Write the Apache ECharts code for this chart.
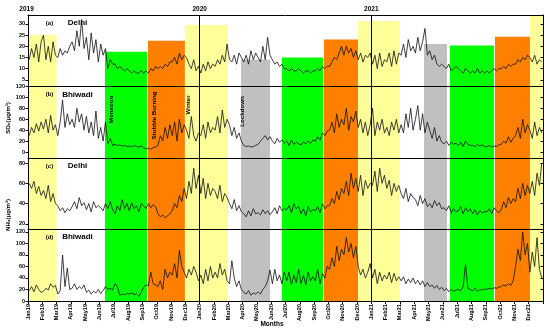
<!DOCTYPE html>
<html><head><meta charset="utf-8">
<script src="https://cdn.jsdelivr.net/npm/echarts@6/dist/echarts.min.js"></script>
<style>html,body{margin:0;padding:0;background:#fff}#c{width:550px;height:331px}</style>
</head><body><div id="c"></div>
<script>
// ---------------- DATA ----------------
const monthLabels = ['Jan19','Feb19','Mar19','Apr19','May19','Jun19','Jul19','Aug19','Sep19','Oct19','Nov19','Dec19',
  'Jan20','Feb20','Mar20','Apr20','May20','Jun20','Jul20','Aug20','Sep20','Oct20','Nov20','Dec20',
  'Jan21','Feb21','Mar21','Apr21','May21','Jun21','Jul21','Aug21','Sep21','Oct21','Nov21','Dec21'];
const samplesPerMonth = 6;

// (a) Delhi SO2
const delhiSO2 = [
 14,19,15,21,13,22, 25,14,20,13,22,16, 15,19,16,18,17,20, 22,18,27,20,32,19, 24,14,26,17,23,13, 21,16,19,10,14,12,
 12,10,11,10,9,10, 9,8,9,8,8,9, 8,9,8,10,9,11, 10,11,10,12,11,13, 13,15,12,17,14,16, 15,12,10,14,9,11,
 8,12,9,13,10,12, 11,14,12,16,13,21, 14,13,16,12,17,15, 13,16,12,18,14,17, 15,13,20,14,24,16, 14,12,13,11,12,10,
 10,9,10,9,9,10, 9,8,9,9,8,9, 9,10,9,11,10,11, 11,13,15,14,17,20, 16,20,17,19,15,18, 14,17,13,16,15,17,
 12,16,10,17,11,14, 13,17,11,18,12,17, 16,21,15,23,18,20, 17,24,18,22,28,16, 18,14,16,12,11,12, 11,10,12,9,10,11,
 10,9,8,10,9,8, 9,8,10,8,9,8, 9,8,9,10,9,10, 10,11,10,12,11,12, 12,14,13,15,14,16, 15,13,16,12,14,13];
// (b) Bhiwadi SO2
const bhiwadiSO2 = [
 30,45,35,52,38,55, 42,60,35,67,40,50, 30,55,95,45,70,50, 60,45,80,55,70,40, 65,35,55,30,75,25, 45,20,55,15,25,12,
 14,12,13,11,12,10, 11,9,12,10,9,11, 8,6,7,5,8,9, 12,30,20,45,25,50, 30,55,20,60,35,50, 40,25,65,30,20,35,
 30,50,25,55,35,45, 40,65,35,77,45,60, 50,30,45,25,35,20, 12,10,11,9,10,12, 14,20,25,30,22,28, 20,15,25,18,22,16,
 20,12,22,14,18,15, 13,18,15,20,16,22, 20,28,22,35,30,38, 40,55,35,70,45,60, 50,80,40,65,55,75, 45,60,35,55,30,50,
 80,30,55,40,60,35, 45,30,55,40,60,35, 50,35,70,45,80,40, 60,85,40,70,35,55, 40,25,45,20,30,18, 15,20,12,18,14,16,
 12,18,10,20,14,12, 12,10,14,11,13,10, 10,12,9,11,10,13, 14,20,16,28,18,25, 30,45,25,60,35,50, 40,25,55,30,45,35];
// (c) Delhi NH3
const delhiNH3 = [
 60,55,62,50,57,48, 53,45,58,42,50,40, 38,33,36,31,35,33, 37,42,35,46,38,41, 34,40,32,42,36,38, 36,33,40,35,42,34,
 30,38,33,44,35,40, 33,41,35,38,32,40, 38,35,40,36,39,37, 30,27,29,26,28,30, 33,40,36,48,42,55, 45,62,50,75,55,68,
 50,65,45,60,48,55, 52,45,58,42,50,46, 40,35,44,33,38,32, 30,27,33,28,35,30, 31,29,34,30,33,29, 32,36,30,38,33,35,
 34,38,31,40,35,37, 30,35,28,37,32,34, 33,37,31,40,35,38, 38,45,40,52,44,55, 50,62,48,70,55,65, 52,68,48,63,55,60,
 58,72,52,75,60,68, 55,63,48,60,52,58, 50,45,55,42,50,46, 44,38,48,40,45,37, 40,36,43,38,41,35, 36,33,38,31,35,32,
 33,37,30,36,32,35, 30,34,29,33,31,32, 32,35,30,36,33,31, 34,42,36,46,40,45, 42,55,45,60,48,58, 50,62,48,70,58,80];
// (d) Bhiwadi NH3
const bhiwadiNH3 = [
 18,25,16,28,20,15, 17,22,19,30,24,27, 12,18,80,25,57,20, 22,30,20,25,21,28, 15,19,12,17,14,20, 13,18,25,20,22,19,
 30,25,10,12,11,13, 12,14,11,13,8,15, 24,28,26,50,30,28, 25,35,20,55,40,50, 45,65,40,88,60,50, 40,55,45,60,50,35,
 45,30,55,35,60,40, 50,40,65,45,55,35, 30,70,40,25,35,20, 15,12,18,10,14,12, 16,12,20,25,35,54, 30,55,35,45,30,50,
 35,50,28,45,32,55, 30,45,28,50,35,42, 35,55,30,48,40,60, 55,75,60,95,70,90, 80,110,85,100,75,95, 60,45,55,40,50,65,
 40,55,30,50,35,45, 38,50,32,48,35,42, 35,42,30,38,32,40, 30,36,28,35,25,32, 25,28,22,27,20,24, 18,22,16,20,17,19,
 20,18,25,63,22,20, 18,22,17,20,19,21, 20,22,21,23,22,24, 25,28,26,30,27,35, 60,90,70,120,80,100, 50,85,60,110,55,40];

const seriesData = [delhiSO2, bhiwadiSO2, delhiNH3, bhiwadiNH3];
const panelTags = ['(a)','(b)','(c)','(d)'];
const panelCities = ['Delhi','Bhiwadi','Delhi','Bhiwadi'];
const yMin = [2, -11, 15, 0];
const yMax = [34, 120, 85, 125];
const yTicks = [[5,10,15,20,25,30],[0,20,40,60,80,100,120],[20,40,60,80],[0,20,40,60,80,100,120]];

// season bands (in months from Jan 2019)
const bandStart = [0, 5.38, 8.39, 10.97, 14.89, 17.75, 20.69, 23.07, 27.68, 29.5, 32.64, 35.09];
const bandEnd   = [2.0, 8.32, 10.97, 13.98, 16.92, 20.62, 23.07, 26.0, 29.29, 32.57, 35.09, 36];
const bandColor = ['#FFFF99','#00FF00','#FF8000','#FFFF99','#C0C0C0','#00FF00','#FF8000','#FFFF99','#C0C0C0','#00FF00','#FF8000','#FFFF99'];
const bandTopA  = [25, 17.5, 22.5, 29.5, 14, 15, 23, 31.3, 21, 20.3, 24.3, 33.5];

const yearLabels = ['2019','2020','2021'];
const yearMonth = [-0.1, 12, 24];
const seasonNames = ['Monsoon','Stubble Burning','Winter','Lockdown'];
const seasonMonth = [5.85, 8.85, 11.2, 14.95];

// ---------------- LAYOUT ----------------
const L = 28, R = 7;
const tops = [15, 86.5, 158, 229];
const heights = [71.5, 71.5, 71, 72];
const FONT = 'Liberation Sans, Arial, sans-serif';

const chart = echarts.init(document.getElementById('c'), null, {renderer:'canvas'});

const grids = [], xAxes = [], yAxes = [], series = [];
for (let p = 0; p < 4; p++) {
  grids.push({left: L, right: R, top: tops[p], height: heights[p]});
  const last = p === 3;
  xAxes.push({
    type: 'value', gridIndex: p, min: 0, max: 36, interval: 1, z: 10,
    axisLine: {show: true, onZero: false, lineStyle: {color: '#000', width: 1}},
    axisTick: {show: last, length: 3, lineStyle: {color: '#000'}},
    axisLabel: {show: last, rotate: 90, fontSize: 5.6, fontWeight: 'bold', color: '#000', fontFamily: FONT, margin: 3,
      formatter: v => (v >= 0 && v < 36) ? monthLabels[v] : ''},
    splitLine: {show: false}
  });
  yAxes.push({
    type: 'value', gridIndex: p, min: yMin[p], max: yMax[p], position: 'left', z: 10,
    axisLine: {show: true, onZero: false, lineStyle: {color: '#000', width: 1}},
    axisTick: {show: true, length: 2.5, customValues: yTicks[p], lineStyle: {color: '#000'}},
    axisLabel: {show: true, customValues: yTicks[p], fontSize: 5.5, fontWeight: 'bold', color: '#000', fontFamily: FONT, margin: 3},
    splitLine: {show: false}
  });
  yAxes.push({
    type: 'value', gridIndex: p, min: yMin[p], max: yMax[p], position: 'right', z: 10,
    axisLine: {show: true, onZero: false, lineStyle: {color: '#000', width: 1}},
    axisTick: {show: true, inside: true, length: 2.5, customValues: yTicks[p], lineStyle: {color: '#000'}},
    axisLabel: {show: false, customValues: yTicks[p]},
    splitLine: {show: false}
  });
  const areas = bandStart.map((s, i) => [
    {xAxis: s, yAxis: yMin[p], itemStyle: {color: bandColor[i], opacity: 1}},
    {xAxis: bandEnd[i], yAxis: p === 0 ? bandTopA[i] : yMax[p]}
  ]);
  series.push({
    type: 'line', xAxisIndex: p, yAxisIndex: p * 2, symbol: 'none', silent: true, animation: false,
    lineStyle: {color: '#111', width: 0.8},
    data: seriesData[p].map((v, i) => [(i + 0.5) / samplesPerMonth, v]),
    markArea: {silent: true, animation: false, z: 1, data: areas},
    markLine: {silent: true, animation: false, symbol: 'none', label: {show: false},
      lineStyle: {color: '#000', width: 1, type: 'solid'},
      data: [{xAxis: 12}, {xAxis: 24}]}
  });
}
// top border line of panel (a)
xAxes.push({type: 'value', gridIndex: 0, min: 0, max: 36, position: 'top', z: 10,
  axisLine: {show: true, onZero: false, lineStyle: {color: '#000', width: 1}},
  axisTick: {show: false}, axisLabel: {show: false}, splitLine: {show: false}});

const plotW = 550 - L - R;
const xPix = m => L + m / 36 * plotW;
const graphics = [];
yearLabels.forEach((t, i) => graphics.push({type: 'text', x: xPix(yearMonth[i]), y: 9, z: 100,
  style: {text: t, fontSize: 6.5, fontWeight: 'bold', fontFamily: FONT, fill: '#000', align: 'center', verticalAlign: 'middle'}}));
for (let p = 0; p < 4; p++) {
  const ty = tops[p] + 8;
  graphics.push({type: 'text', x: 49.5, y: ty, z: 100,
    style: {text: panelTags[p], fontSize: 6, fontWeight: 'bold', fontFamily: FONT, fill: '#000', align: 'center', verticalAlign: 'middle'}});
  graphics.push({type: 'text', x: 77.5, y: ty, z: 100,
    style: {text: panelCities[p], fontSize: 8, fontWeight: 'bold', fontFamily: FONT, fill: '#000', align: 'center', verticalAlign: 'middle'}});
}
const seasonY = [109.5, 115.5, 105, 111.5];
seasonNames.forEach((t, i) => graphics.push({type: 'text', x: xPix(seasonMonth[i]), y: seasonY[i], rotation: Math.PI / 2, z: 100,
  style: {text: t, fontSize: 6.2, fontWeight: 'bold', fontFamily: FONT, fill: '#000', align: 'center', verticalAlign: 'middle'}}));
graphics.push({type: 'text', x: 8, y: 118, rotation: Math.PI / 2, z: 100,
  style: {text: 'SO\u2082(\u03bcg/m\u00b3)', fontSize: 6, fontWeight: 'bold', fontFamily: FONT, fill: '#000', align: 'center', verticalAlign: 'middle'}});
graphics.push({type: 'text', x: 8, y: 215, rotation: Math.PI / 2, z: 100,
  style: {text: 'NH\u2083(\u03bcg/m\u00b3)', fontSize: 6, fontWeight: 'bold', fontFamily: FONT, fill: '#000', align: 'center', verticalAlign: 'middle'}});
graphics.push({type: 'text', x: 272, y: 324, z: 100,
  style: {text: 'Months', fontSize: 6.5, fontWeight: 'bold', fontFamily: FONT, fill: '#000', align: 'center', verticalAlign: 'middle'}});

chart.setOption({
  animation: false,
  backgroundColor: '#fff',
  grid: grids, xAxis: xAxes, yAxis: yAxes, series: series, graphic: graphics
});
</script></body></html>
